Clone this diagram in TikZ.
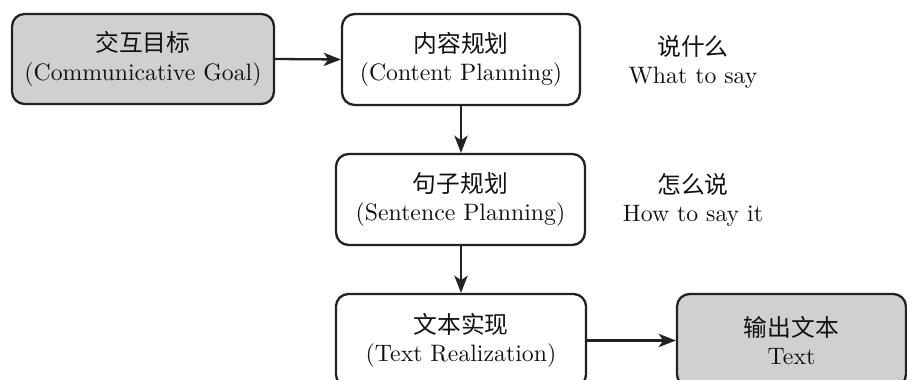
\documentclass[tikz,border=0pt]{standalone}
\usepackage{fontspec}
\newfontfamily\cjk{Noto Sans CJK SC}
\usetikzlibrary{arrows.meta}
\definecolor{boxgray}{HTML}{D0D0D0}
\definecolor{edgec}{HTML}{222222}
\definecolor{txtc}{HTML}{111111}
\tikzset{
  stagebox/.style={draw=edgec, line width=1pt, rounded corners=5.5pt, align=center,
    text=txtc, font=\fontsize{10.35pt}{12.4pt}\selectfont, inner sep=0pt},
  endbox/.style={stagebox, fill=boxgray},
  sidetext/.style={align=center, text=txtc, font=\fontsize{10.35pt}{12.4pt}\selectfont, inner sep=0pt},
  flow/.style={draw=edgec, line width=1pt, -{Stealth[length=7.5pt, width=5.8pt, inset=2pt]}}
}
\begin{document}
\begin{tikzpicture}[x=0.4354pt, y=-0.4354pt]
\clip (0,0) rectangle (907,380);
\node[endbox, minimum width=114.1pt, minimum height=39.2pt] (goal) at (143,59)
  {{\cjk 交互目标}\\(Communicative Goal)};
\node[stagebox, minimum width=103.6pt, minimum height=39.6pt] (content) at (461,59.5)
  {{\cjk 内容规划}\\(Content Planning)};
\node[stagebox, minimum width=108.4pt, minimum height=39.6pt] (sentence) at (460.5,199.5)
  {{\cjk 句子规划}\\(Sentence Planning)};
\node[stagebox, minimum width=108.9pt, minimum height=40.5pt] (real) at (461,340.5)
  {{\cjk 文本实现}\\(Text Realization)};
\node[endbox, minimum width=99.7pt, minimum height=40.5pt] (out) at (791.5,340.5)
  {{\cjk 输出文本}\\Text};
\node[sidetext] (what) at (693,62) {{\cjk 说什么}\\What to say};
\node[sidetext] (how) at (693,200) {{\cjk 怎么说}\\How to say it};
\draw[flow] (goal.east) -- (content.west);
\draw[flow] (content.south) -- (content.south |- sentence.north);
\draw[flow] (sentence.south -| real.north) -- (real.north);
\draw[flow] (real.east) -- (out.west);
\end{tikzpicture}
\end{document}
